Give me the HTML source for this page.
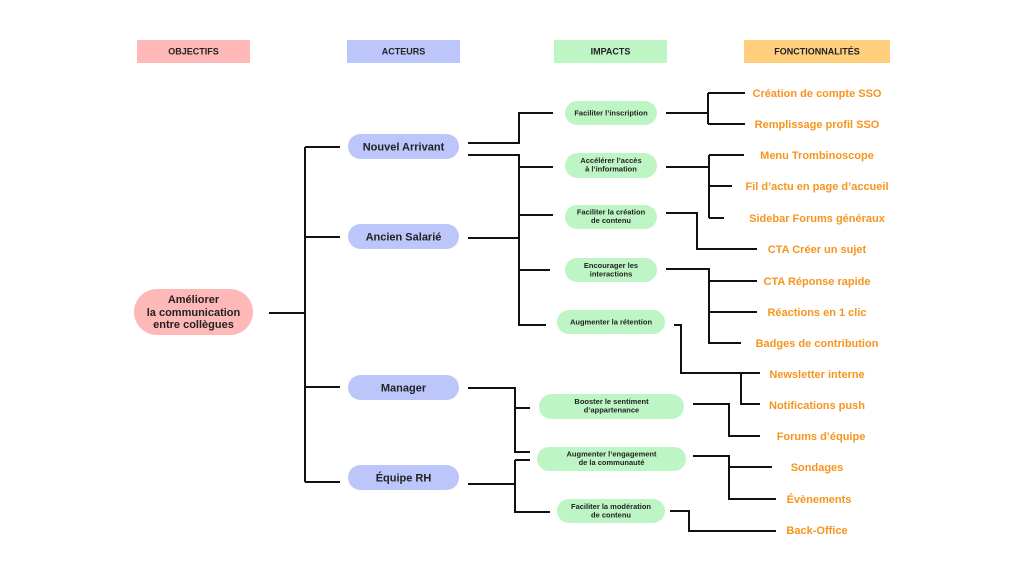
<!DOCTYPE html>
<html><head><meta charset="utf-8"><style>
html,body{margin:0;padding:0;background:#fff;}
svg{display:block;}
text{font-family:"Liberation Sans",sans-serif;font-weight:bold;}
.h{font-size:9px;fill:#222;text-anchor:middle;}
.a{font-size:11px;fill:#222;text-anchor:middle;}
.i{font-size:7.5px;fill:#222;text-anchor:middle;}
.f{font-size:11px;fill:#f7941d;text-anchor:middle;}
.o{font-size:11px;fill:#222;text-anchor:middle;}
path{fill:none;stroke:#111;stroke-width:2;}
</style></head><body>
<svg width="1024" height="576" viewBox="0 0 1024 576">
<rect x="137" y="40" width="113" height="23" fill="#ffb8b8"/>
<text class="h" x="193.5" y="54.5">OBJECTIFS</text>
<rect x="347" y="40" width="113" height="23" fill="#bcc6fb"/>
<text class="h" x="403.5" y="54.5">ACTEURS</text>
<rect x="554" y="40" width="113" height="23" fill="#bdf6c4"/>
<text class="h" x="610.5" y="54.5">IMPACTS</text>
<rect x="744" y="40" width="146" height="23" fill="#ffcf7e"/>
<text class="h" x="817" y="54.5">FONCTIONNALITÉS</text>

<rect x="134" y="289" width="119" height="46" rx="23" fill="#ffb8b8"/>
<text class="o" x="193.5" y="303">Améliorer</text>
<text class="o" x="193.5" y="316">la communication</text>
<text class="o" x="193.5" y="328">entre collègues</text>

<path d="M269 313H305M305 147V482M305 147H340M305 237H340M305 387H340M305 482H340"/>

<rect x="348" y="134" width="111" height="25" rx="12.5" fill="#bcc6fb"/>
<text class="a" x="403.5" y="150.5">Nouvel Arrivant</text>
<rect x="348" y="224" width="111" height="25" rx="12.5" fill="#bcc6fb"/>
<text class="a" x="403.5" y="240.5">Ancien Salarié</text>
<rect x="348" y="375" width="111" height="25" rx="12.5" fill="#bcc6fb"/>
<text class="a" x="403.5" y="391.5">Manager</text>
<rect x="348" y="465" width="111" height="25" rx="12.5" fill="#bcc6fb"/>
<text class="a" x="403.5" y="481.5">Équipe RH</text>

<path d="M468 143H519V113H553"/>
<path d="M468 155H519V325H546M468 238H519M519 167H553M519 215H553M519 270H550"/>
<path d="M468 388H515V452H530M515 408H530"/>
<path d="M468 484H515M515 460V512H550M515 460H530"/>

<rect x="565" y="101" width="92" height="24" rx="12" fill="#bdf6c4"/>
<text class="i" x="611" y="115.5">Faciliter l’inscription</text>
<rect x="565" y="153" width="92" height="25" rx="12.5" fill="#bdf6c4"/>
<text class="i" x="611" y="163">Accélérer l’accès</text>
<text class="i" x="611" y="171.5">à l’information</text>
<rect x="565" y="205" width="92" height="24" rx="12" fill="#bdf6c4"/>
<text class="i" x="611" y="214.5">Faciliter la création</text>
<text class="i" x="611" y="223">de contenu</text>
<rect x="565" y="258" width="92" height="24" rx="12" fill="#bdf6c4"/>
<text class="i" x="611" y="268">Encourager les</text>
<text class="i" x="611" y="276.5">interactions</text>
<rect x="557" y="310" width="108" height="24" rx="12" fill="#bdf6c4"/>
<text class="i" x="611" y="324.5">Augmenter la rétention</text>
<rect x="539" y="394" width="145" height="25" rx="12.5" fill="#bdf6c4"/>
<text class="i" x="611.5" y="404">Booster le sentiment</text>
<text class="i" x="611.5" y="412.5">d’appartenance</text>
<rect x="537" y="447" width="149" height="24" rx="12" fill="#bdf6c4"/>
<text class="i" x="611.5" y="456.5">Augmenter l’engagement</text>
<text class="i" x="611.5" y="465">de la communauté</text>
<rect x="557" y="499" width="108" height="24" rx="12" fill="#bdf6c4"/>
<text class="i" x="611" y="509">Faciliter la modération</text>
<text class="i" x="611" y="517.5">de contenu</text>

<path d="M666 113H708M708 93V124M708 93H745M708 124H745"/>
<path d="M666 167H709M709 155V218M709 155H744M709 186H732M709 218H724"/>
<path d="M666 213H697V249H757"/>
<path d="M666 269H709V343H741M709 281H757M709 312H757"/>
<path d="M674 325H681V373H760M741 373V404H760"/>
<path d="M693 404H729V436H760"/>
<path d="M693 456H729V499H776M729 467H772"/>
<path d="M670 511H689V531H776"/>

<text class="f" x="817" y="97">Création de compte SSO</text>
<text class="f" x="817" y="128">Remplissage profil SSO</text>
<text class="f" x="817" y="159">Menu Trombinoscope</text>
<text class="f" x="817" y="190">Fil d’actu en page d’accueil</text>
<text class="f" x="817" y="222">Sidebar Forums généraux</text>
<text class="f" x="817" y="253">CTA Créer un sujet</text>
<text class="f" x="817" y="285">CTA Réponse rapide</text>
<text class="f" x="817" y="316">Réactions en 1 clic</text>
<text class="f" x="817" y="347">Badges de contribution</text>
<text class="f" x="817" y="378">Newsletter interne</text>
<text class="f" x="817" y="409">Notifications push</text>
<text class="f" x="821" y="440">Forums d’équipe</text>
<text class="f" x="817" y="471">Sondages</text>
<text class="f" x="819" y="503">Évènements</text>
<text class="f" x="817" y="534">Back-Office</text>
</svg>
</body></html>
